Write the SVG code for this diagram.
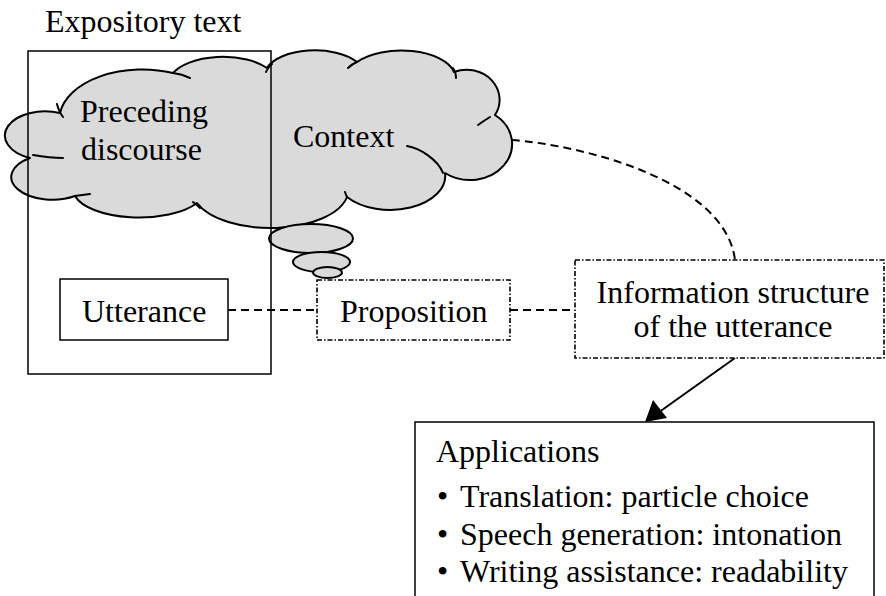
<svg xmlns="http://www.w3.org/2000/svg" width="886" height="596" viewBox="0 0 886 596">
<style>
text{font-family:"Liberation Serif","Times New Roman",serif;font-size:32px;fill:#000}
.cloud{fill:#dadada;stroke:#000;stroke-width:2;stroke-linejoin:round}
.crease{fill:none;stroke:#000;stroke-width:2;stroke-linecap:round}
.box{fill:none;stroke:#000;stroke-width:1.5}
.dotbox{fill:#fff;stroke:#000;stroke-width:1.6;stroke-dasharray:5 2 1.5 2}
.dash{fill:none;stroke:#000;stroke-width:2;stroke-dasharray:8 5}
</style>
<defs>
<marker id="ah" markerWidth="10" markerHeight="8" refX="10" refY="4" orient="auto" markerUnits="userSpaceOnUse" viewBox="0 0 10 8">
<path d="M0,0 L10,4 L0,8 Z" fill="#000"/>
</marker>
</defs>
<rect width="886" height="596" fill="#fff"/>

<g id="cloud">
<path class="cloud" d="M60,113 A83,50 0 0 1 173,73 A55,28 0 0 1 267,68 A50,25 0 0 1 357,62 A54,27 0 0 1 454,72 A33,30 0 0 1 495,115 A42,36 0 0 1 445,173 A55,34 0 0 1 347,197 A78,38 0 0 1 197,203 A66,28 0 0 1 75,196 A40,22 0 0 1 30,158 A38,23 0 0 1 60,113 Z"/>
<path class="crease" d="M57,104 Q59,112 63,117 M173,73 Q182,74 190,78 M266,72 Q268,67 272,64 M348,68 Q352,64 357,62 M453,68 Q456,72 456,78 M478,125 Q485,120 490,117 M407,146 C420,148 438,160 443,173 M345,192 Q346,195 347,197 M193,202 Q197,205 200,208 M75,196 Q82,195 90,194 M33,155 Q50,158 63,158"/>
<text x="80" y="122">Preceding</text>
<text x="81" y="160">discourse</text>
<text x="293" y="147">Context</text>
</g>

<g id="bubbles">
<ellipse class="cloud" cx="311" cy="238.5" rx="42" ry="14.5"/>
<ellipse class="cloud" cx="321.5" cy="262" rx="28.5" ry="10"/>
<ellipse class="cloud" cx="327.5" cy="272.5" rx="14.5" ry="5.5"/>
</g>

<g id="expository">
<rect class="box" x="28" y="51" width="243" height="323"/>
<text x="45" y="32">Expository text</text>
</g>

<g id="utterance">
<rect class="box" x="60" y="279" width="168" height="61"/>
<text x="82" y="322">Utterance</text>
</g>

<g id="connectors">
<path class="dash" d="M228,310 H317"/>
<path class="dash" d="M510,310 H575"/>
<path class="dash" d="M512,140 C580,145 725,180 735,260"/>
<path d="M735,358 L648,420" fill="none" stroke="#000" stroke-width="2"/>
<path d="M645,422 L653,400 L667,418 Z" fill="#000"/>
</g>

<g id="proposition">
<rect class="dotbox" x="317" y="280" width="193" height="60"/>
<text x="340" y="322">Proposition</text>
</g>

<g id="infostructure">
<rect class="dotbox" x="575" y="260" width="309" height="98"/>
<text x="733" y="303" text-anchor="middle">Information structure</text>
<text x="733" y="337" text-anchor="middle">of the utterance</text>
</g>

<g id="applications">
<rect class="box" x="415" y="422" width="459" height="190"/>
<text x="436" y="462">Applications</text>
<text x="437" y="507">•</text><text x="460" y="507">Translation: particle choice</text>
<text x="437" y="545">•</text><text x="460" y="545">Speech generation: intonation</text>
<text x="437" y="582">•</text><text x="460" y="582">Writing assistance: readability</text>
</g>
</svg>
